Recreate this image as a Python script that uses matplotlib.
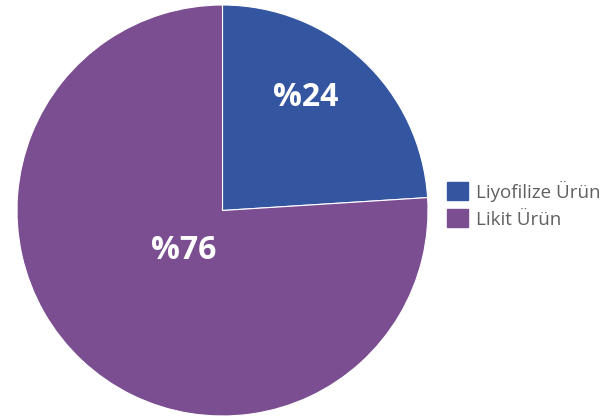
import matplotlib.pyplot as plt
from matplotlib.patches import Patch

labels = ["Liyofilize Ürün", "Likit Ürün"]
values = [24, 76]
colors = ["#3456A0", "#7A4E90"]
# label anchors as fractions of the pie radius
label_x = [0.405, -0.19]
label_y = [0.551, -0.195]

plt.rcParams['font.family'] = ['Open Sans', 'DejaVu Sans']

fig = plt.figure(figsize=(6.13, 4.17), dpi=100)
ax = fig.add_axes([17/613, 1/417, 411/613, 411/417])

wedges, _ = ax.pie(values, colors=colors, startangle=90, counterclock=False,
                   wedgeprops=dict(edgecolor='white', linewidth=0.8))

for v, x, y in zip(values, label_x, label_y):
    ax.text(x, y, "%" + str(v), ha='center', va='center', color='white',
            fontsize=23, fontweight='bold')
ax.set_aspect('equal')
ax.set_xlim(-1, 1)
ax.set_ylim(-1, 1)

handles = [Patch(facecolor=c, edgecolor=c) for c in colors]
fig.legend(handles, labels, loc='center left', bbox_to_anchor=(430/613, 0.509),
           frameon=False, fontsize=13.5, labelcolor='#606060',
           handlelength=1.1, handleheight=1.1, handletextpad=0.45, labelspacing=0.4)

fig.savefig("out.png", dpi=100)
